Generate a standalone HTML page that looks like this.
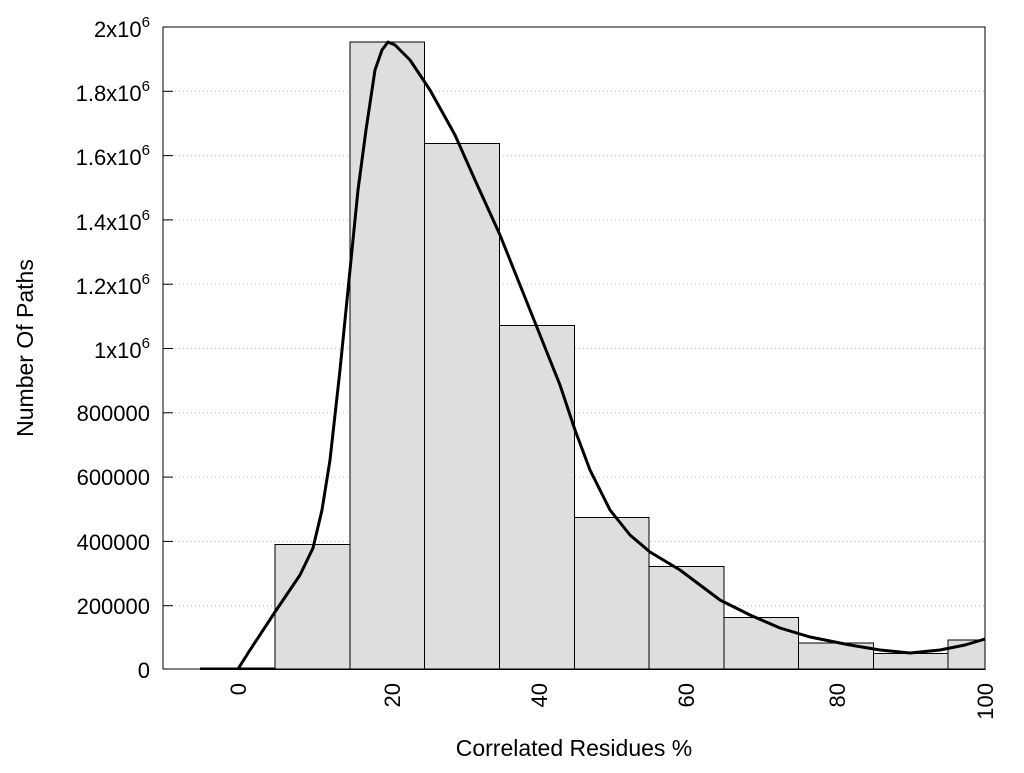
<!DOCTYPE html>
<html><head><style>body{margin:0;background:#fff}</style></head><body>
<svg width="1024" height="768" xmlns="http://www.w3.org/2000/svg" font-family="Liberation Sans, sans-serif" font-size="22">
<rect width="1024" height="768" fill="#fff"/>
<g stroke="#bbb" stroke-dasharray="1,3" stroke-width="1">
<line x1="163" x2="985" y1="91.3" y2="91.3"/><line x1="163" x2="985" y1="155.6" y2="155.6"/>
<line x1="163" x2="985" y1="219.9" y2="219.9"/><line x1="163" x2="985" y1="284.2" y2="284.2"/>
<line x1="163" x2="985" y1="348.5" y2="348.5"/><line x1="163" x2="985" y1="412.8" y2="412.8"/>
<line x1="163" x2="985" y1="477.1" y2="477.1"/><line x1="163" x2="985" y1="541.4" y2="541.4"/>
<line x1="163" x2="985" y1="605.7" y2="605.7"/>
</g>
<g fill="#dedede" stroke="#000" stroke-width="1">
<rect x="200.5" y="668" width="74.7" height="1.5"/>
<rect x="275" y="544.5" width="75" height="125"/>
<rect x="350" y="42" width="74.5" height="627.5"/>
<rect x="424.5" y="143.5" width="75" height="526"/>
<rect x="499.5" y="325.5" width="75" height="344"/>
<rect x="574.5" y="517.5" width="74.5" height="152"/>
<rect x="649" y="566.5" width="75" height="103"/>
<rect x="724" y="617.5" width="74.5" height="52"/>
<rect x="798.5" y="643" width="75" height="26.5"/>
<rect x="873.5" y="653.5" width="74.5" height="16"/>
<rect x="948" y="640" width="37" height="29.5"/>
</g>
<polyline fill="none" stroke="#000" stroke-width="3" stroke-linejoin="round" points="238,669 250,650 275,612 300,575 313,548 322,510 330,460 340,370 350,270 358,190 366,130 375,70 382,50 388,42 395,45 410,60 430,90 455,135 475,180 500,235 520,285 540,335 560,385 575,430 590,470 610,510 630,535 650,552 680,570 700,585 720,600 750,615 780,628 810,637 850,645 880,650 910,653 940,650 965,645 985,639"/>
<rect x="163" y="27" width="822" height="642" fill="none" stroke="#000" stroke-width="1"/>
<g stroke="#000" stroke-width="1">
<line x1="163" x2="173" y1="91.3" y2="91.3"/><line x1="163" x2="173" y1="155.6" y2="155.6"/>
<line x1="163" x2="173" y1="219.9" y2="219.9"/><line x1="163" x2="173" y1="284.2" y2="284.2"/>
<line x1="163" x2="173" y1="348.5" y2="348.5"/><line x1="163" x2="173" y1="412.8" y2="412.8"/>
<line x1="163" x2="173" y1="477.1" y2="477.1"/><line x1="163" x2="173" y1="541.4" y2="541.4"/>
<line x1="163" x2="173" y1="605.7" y2="605.7"/>
</g>
<g text-anchor="end">
<text x="150" y="37">2x10<tspan dy="-10" font-size="15">6</tspan></text>
<text x="150" y="101">1.8x10<tspan dy="-10" font-size="15">6</tspan></text>
<text x="150" y="165">1.6x10<tspan dy="-10" font-size="15">6</tspan></text>
<text x="150" y="230">1.4x10<tspan dy="-10" font-size="15">6</tspan></text>
<text x="150" y="294">1.2x10<tspan dy="-10" font-size="15">6</tspan></text>
<text x="150" y="358">1x10<tspan dy="-10" font-size="15">6</tspan></text>
<text x="150" y="421">800000</text>
<text x="150" y="485">600000</text>
<text x="150" y="550">400000</text>
<text x="150" y="614">200000</text>
<text x="150" y="678">0</text>
</g>
<g text-anchor="end">
<text transform="translate(246,683) rotate(-90)">0</text>
<text transform="translate(400,683) rotate(-90)">20</text>
<text transform="translate(547,683) rotate(-90)">40</text>
<text transform="translate(694,683) rotate(-90)">60</text>
<text transform="translate(845,683) rotate(-90)">80</text>
<text transform="translate(993,683) rotate(-90)">100</text>
</g>
<text x="574" y="756" text-anchor="middle" font-size="23">Correlated Residues %</text>
<text transform="translate(33,348) rotate(-90)" text-anchor="middle" font-size="23">Number Of Paths</text>
</svg>
</body></html>
